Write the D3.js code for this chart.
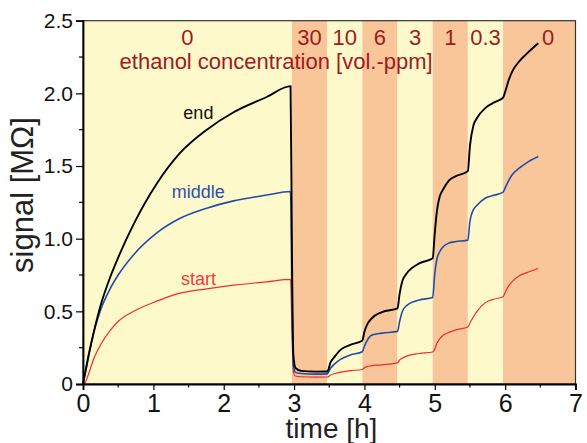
<!DOCTYPE html>
<html>
<head>
<meta charset="utf-8">
<script src="https://cdn.jsdelivr.net/npm/d3@7"></script>
<style>
  html, body { margin: 0; padding: 0; background: #ffffff; }
  svg { display: block; font-family: "Liberation Sans", Arial, sans-serif; }
</style>
</head>
<body>
<svg id="chart" width="587" height="443"></svg>
<script>
// ---- data ----
const hours = [0, 0.03, 0.08, 0.15, 0.25, 0.39, 0.5, 0.72, 1.05, 1.38, 1.76, 2.14, 2.61, 2.95,
  2.97, 2.99, 3.02, 3.1, 3.3, 3.47,
  3.52, 3.58, 3.66, 3.8, 3.97,
  4.0, 4.04, 4.1, 4.25, 4.47,
  4.5, 4.54, 4.6, 4.78, 4.97,
  5.0, 5.03, 5.07, 5.12, 5.2, 5.3, 5.47,
  5.5, 5.55, 5.6, 5.72, 5.85, 5.97,
  6.0, 6.05, 6.1, 6.2, 6.3, 6.47];

const endValues = [0, 0.075, 0.2, 0.35, 0.54, 0.74, 0.87, 1.10, 1.38, 1.59, 1.75, 1.87, 1.975, 2.05,
  0.9, 0.2, 0.11, 0.09, 0.085, 0.086,
  0.15, 0.19, 0.235, 0.27, 0.30,
  0.36, 0.41, 0.45, 0.495, 0.52,
  0.62, 0.71, 0.76, 0.83, 0.865,
  1.04, 1.19, 1.29, 1.34, 1.40, 1.43, 1.465,
  1.64, 1.78, 1.83, 1.90, 1.94, 1.97,
  2.01, 2.09, 2.15, 2.22, 2.27, 2.345];

const middleValues = [0, 0.07, 0.19, 0.35, 0.51, 0.66, 0.75, 0.89, 1.04, 1.14, 1.21, 1.26, 1.30, 1.325,
  0.6, 0.13, 0.08, 0.072, 0.068, 0.07,
  0.11, 0.14, 0.17, 0.20, 0.222,
  0.26, 0.30, 0.335, 0.35, 0.362,
  0.43, 0.50, 0.54, 0.578, 0.596,
  0.76, 0.86, 0.91, 0.945, 0.97, 0.98, 0.99,
  1.12, 1.20, 1.23, 1.28, 1.30, 1.32,
  1.35, 1.40, 1.44, 1.485, 1.52, 1.565];

const startValues = [0, 0.01, 0.07, 0.17, 0.27, 0.37, 0.43, 0.50, 0.57, 0.625, 0.655, 0.68, 0.703, 0.72,
  0.35, 0.08, 0.055, 0.05, 0.047, 0.048,
  0.062, 0.072, 0.082, 0.092, 0.10,
  0.112, 0.12, 0.125, 0.132, 0.145,
  0.165, 0.178, 0.192, 0.21, 0.22,
  0.24, 0.28, 0.31, 0.335, 0.355, 0.372, 0.392,
  0.42, 0.463, 0.50, 0.56, 0.585, 0.60,
  0.63, 0.675, 0.705, 0.745, 0.765, 0.795];

const bandEdges = [0, 2.97, 3.47, 3.97, 4.47, 4.97, 5.47, 5.97, 7];
const concentrationLabels = ["0", "30", "10", "6", "3", "1", "0.3", "0"];
const concentrationLabelHours = [1.485, 3.22, 3.72, 4.22, 4.72, 5.22, 5.72, 6.61];

const xTicks = [0, 1, 2, 3, 4, 5, 6, 7];
const yTicks = [0, 0.5, 1.0, 1.5, 2.0, 2.5];
const yTickLabels = ["0", "0.5", "1.0", "1.5", "2.0", "2.5"];

const seriesNames = ["start", "middle", "end"];
const seriesLabelPos = [[1.64, 0.681], [1.64, 1.282], [1.64, 1.824]]; // [h, MΩ]

// ---- layout ----
const W = 587, H = 443;
const margin = { left: 83, right: 11.5, top: 20.7, bottom: 59 };
const svg = d3.select("#chart");

const x = d3.scaleLinear().domain([0, 7]).range([margin.left, W - margin.right]);
const y = d3.scaleLinear().domain([0, 2.5]).range([H - margin.bottom, margin.top]);

const yellow = "#fef9cb", orange = "#f9c699";
const darkRed = "#a11a1d";

// bands
const bands = d3.range(bandEdges.length - 1).map(i => ({ x0: bandEdges[i], x1: bandEdges[i + 1], i }));
svg.append("g").selectAll("rect").data(bands).join("rect")
  .attr("x", d => x(d.x0))
  .attr("width", d => x(d.x1) - x(d.x0))
  .attr("y", y(2.5))
  .attr("height", y(0) - y(2.5))
  .attr("fill", d => d.i % 2 === 0 ? yellow : orange);

// concentration labels
svg.append("g").selectAll("text").data(concentrationLabels).join("text")
  .attr("x", (d, i) => x(concentrationLabelHours[i]))
  .attr("y", 45)
  .attr("text-anchor", "middle")
  .attr("font-size", 22)
  .attr("fill", darkRed)
  .text(d => d);

svg.append("text")
  .attr("x", x(2.745))
  .attr("y", 69.3)
  .attr("text-anchor", "middle")
  .attr("font-size", 22)
  .attr("fill", darkRed)
  .text("ethanol concentration [vol.-ppm]");

// lines
const colors = { start: "#ef2b2b", middle: "#1f4ca8", end: "#000000" };
const widths = { start: 1.2, middle: 1.6, end: 1.9 };
const valuesBy = { start: startValues, middle: middleValues, end: endValues };

const line = d3.line()
  .x((d, i) => x(hours[i]))
  .y(d => y(d))
  .curve(d3.curveMonotoneX);

seriesNames.forEach(name => {
  svg.append("path")
    .datum(valuesBy[name])
    .attr("d", line)
    .attr("fill", "none")
    .attr("stroke", colors[name])
    .attr("stroke-width", widths[name])
    .attr("stroke-linejoin", "round");
});

// series labels
const labelColors = { start: "#f03a3a", middle: "#2a50b0", end: "#111111" };
seriesNames.forEach((name, i) => {
  svg.append("text")
    .attr("x", x(seriesLabelPos[i][0]))
    .attr("y", y(seriesLabelPos[i][1]))
    .attr("text-anchor", "middle")
    .attr("font-size", 18)
    .attr("fill", labelColors[name])
    .text(name);
});

// frame (top & right)
svg.append("rect")
  .attr("x", x(0)).attr("y", y(2.5))
  .attr("width", x(7) - x(0)).attr("height", y(0) - y(2.5))
  .attr("fill", "none").attr("stroke", "#333").attr("stroke-width", 1.2);

// axes
const xAxis = d3.axisBottom(x).tickValues(xTicks).tickFormat(d3.format("d")).tickSize(6).tickPadding(4);
const gx = svg.append("g").attr("transform", `translate(0,${y(0)})`).call(xAxis);
gx.selectAll("text").attr("font-size", 25).attr("fill", "#111").attr("font-family", "Liberation Sans, Arial, sans-serif");
gx.selectAll(".minor").data(d3.range(0.5, 7, 1)).join("line")
  .attr("class", "minor")
  .attr("x1", d => x(d)).attr("x2", d => x(d))
  .attr("y1", 0).attr("y2", 3.5)
  .attr("stroke", "#000").attr("stroke-width", 1.2);

const yAxis = d3.axisLeft(y).tickValues(yTicks).tickFormat((d, i) => yTickLabels[i]).tickSize(7).tickPadding(3);
const gy = svg.append("g").attr("transform", `translate(${x(0)},0)`).call(yAxis);
gy.selectAll("text").attr("font-size", 21).attr("fill", "#111").attr("font-family", "Liberation Sans, Arial, sans-serif");
gy.selectAll(".minor").data(d3.range(0.25, 2.5, 0.5)).join("line")
  .attr("class", "minor")
  .attr("x1", 0).attr("x2", -4)
  .attr("y1", d => y(d)).attr("y2", d => y(d))
  .attr("stroke", "#000").attr("stroke-width", 1.2);

[gx, gy].forEach(g => {
  g.select(".domain").attr("stroke", "#000").attr("stroke-width", 1.8);
  g.selectAll(".tick line").attr("stroke", "#000").attr("stroke-width", 1.2);
});

// axis titles
svg.append("text")
  .attr("x", 331.5).attr("y", 438)
  .attr("text-anchor", "middle")
  .attr("font-size", 28)
  .attr("fill", "#222")
  .text("time [h]");

svg.append("text")
  .attr("transform", "translate(33,195) rotate(-90)")
  .attr("text-anchor", "middle")
  .attr("font-size", 31)
  .attr("fill", "#222")
  .text("signal [MΩ]");
</script>
</body>
</html>
